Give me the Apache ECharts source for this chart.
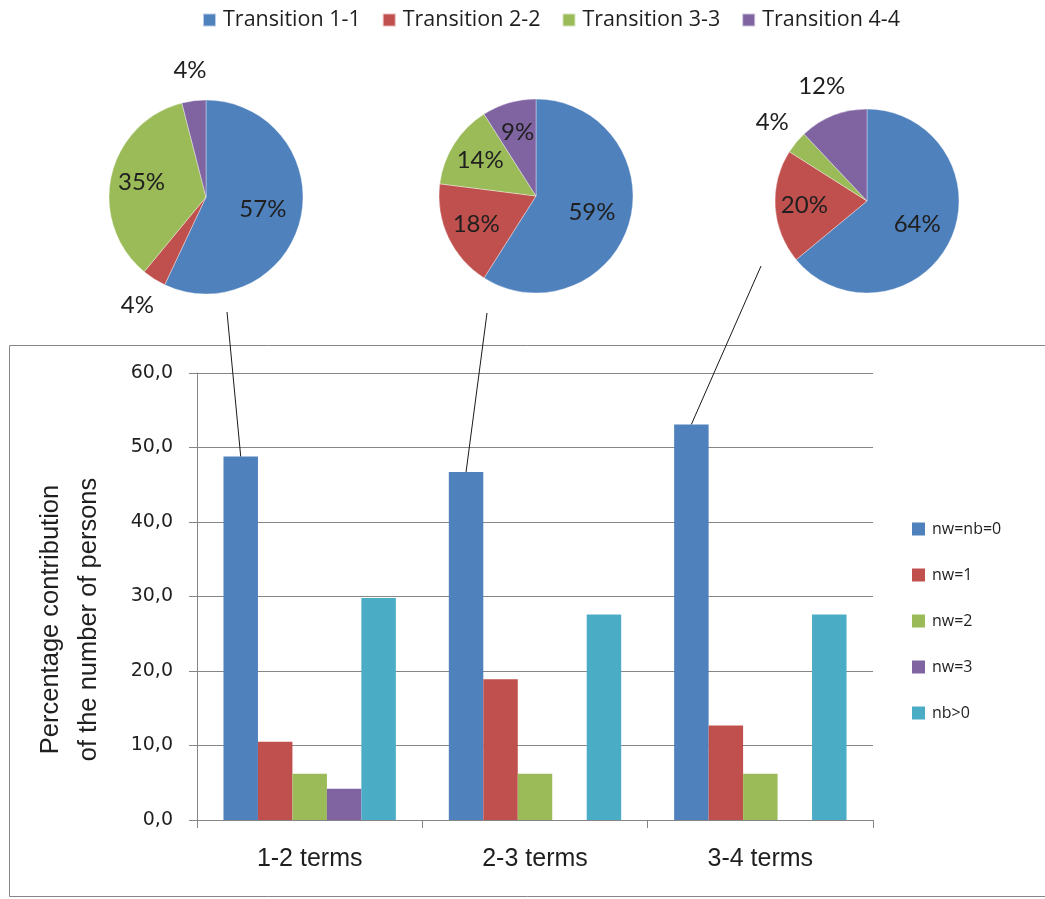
<!DOCTYPE html>
<html>
<head>
<meta charset="utf-8">
<script src="https://cdn.jsdelivr.net/npm/echarts@6/dist/echarts.min.js"></script>
<style>
  html, body { margin: 0; padding: 0; background: #fff; }
  #chart { width: 1045px; height: 899px; }
</style>
</head>
<body>
<div id="chart"></div>
<script>
// Bar chart: share of persons by household group for each term transition
const categories = ['1-2 terms', '2-3 terms', '3-4 terms'];
const groupNames = ['nw=nb=0', 'nw=1', 'nw=2', 'nw=3', 'nb>0'];
const nwnb0 = [48.8, 46.7, 53.1];
const nw1 = [10.5, 18.9, 12.7];
const nw2 = [6.2, 6.2, 6.2];
const nw3 = [4.2, 0, 0];
const nbPos = [29.8, 27.6, 27.6];
const yTicks = [0, 10, 20, 30, 40, 50, 60];

// Pie charts: breakdown of transitions for each term pair
const transitionNames = ['Transition 1-1', 'Transition 2-2', 'Transition 3-3', 'Transition 4-4'];
const pie12 = [57, 4, 35, 4];
const pie23 = [59, 18, 14, 9];
const pie34 = [64, 20, 4, 12];

const barColors = ['#4F81BD', '#C0504D', '#9BBB59', '#8064A2', '#4BACC6'];
const pieColors = ['#4F81BD', '#C0504D', '#9BBB59', '#8064A2'];
const textColor = '#1f1f1f';
const gridColor = '#868686';

const barCatGap = 0.235;

// inner labels sit a bit beyond half radius (closer in for the majority slice),
// small slices get their label just outside the pie
function pieData(values, r, outsideIdx) {
  const total = values.reduce((a, b) => a + b, 0);
  let acc = 0;
  return values.map((v, i) => {
    const mid = (acc + v / 2) / total * Math.PI * 2;
    acc += v;
    const outside = outsideIdx.indexOf(i) >= 0;
    const d = outside ? r + 28 : (v / total > 0.5 ? r * 0.57 : r * 0.65);
    const k = d - r / 2;
    return {
      name: transitionNames[i],
      value: v,
      label: { offset: [Math.sin(mid) * k, -Math.cos(mid) * k] }
    };
  });
}

function pieSeries(values, center, r, outsideIdx) {
  return {
    type: 'pie',
    center: center,
    radius: r,
    startAngle: 90,
    clockwise: true,
    silent: true,
    animation: false,
    color: pieColors,
    itemStyle: { borderColor: 'rgba(255,255,255,0.6)', borderWidth: 0.6 },
    label: {
      show: true,
      position: 'inside',
      formatter: '{c}%',
      fontFamily: 'Lato',
      fontSize: 24,
      color: textColor
    },
    labelLine: { show: false },
    data: pieData(values, r, outsideIdx)
  };
}

const barSeriesData = [nwnb0, nw1, nw2, nw3, nbPos];

const option = {
  animation: false,
  backgroundColor: '#fff',
  legend: [
    {
      data: transitionNames,
      left: 202,
      top: 9,
      padding: 0,
      icon: 'rect',
      itemWidth: 13,
      itemHeight: 13,
      itemGap: 21,
      textStyle: { fontFamily: 'Open Sans', fontSize: 21.5, color: textColor, padding: [0, 0, 0, 2] }
    },
    {
      data: groupNames,
      orient: 'vertical',
      left: 912,
      top: 519,
      padding: 0,
      icon: 'rect',
      itemWidth: 13,
      itemHeight: 13,
      itemGap: 26,
      textStyle: { fontFamily: 'Open Sans', fontSize: 16, lineHeight: 20, color: textColor, padding: [0, 0, 0, 2] }
    }
  ],
  grid: { left: 197, right: 172, top: 373, bottom: 79, outerBoundsMode: 'none', containLabel: false },
  xAxis: {
    type: 'category',
    data: categories,
    axisLine: { lineStyle: { color: gridColor } },
    axisTick: { show: true, length: 8, lineStyle: { color: gridColor } },
    axisLabel: { fontFamily: 'Liberation Sans', fontSize: 25, color: textColor, margin: 27 }
  },
  yAxis: {
    type: 'value',
    min: yTicks[0],
    max: yTicks[yTicks.length - 1],
    interval: 10,
    name: 'Percentage contribution\nof the number of persons',
    nameLocation: 'middle',
    nameRotate: 90,
    nameGap: 89,
    nameTextStyle: {
      fontFamily: 'Liberation Sans',
      fontSize: 25.5,
      lineHeight: 38,
      color: textColor,
      padding: [0, 46, 0, 0]
    },
    axisLine: { show: true, lineStyle: { color: gridColor } },
    axisTick: { show: true, length: 8, lineStyle: { color: gridColor } },
    splitLine: { lineStyle: { color: gridColor } },
    axisLabel: {
      fontFamily: 'DejaVu Sans',
      fontSize: 19,
      color: textColor,
      margin: 24,
      formatter: v => v.toFixed(1).replace('.', ',')
    }
  },
  series: [
    ...groupNames.map((name, i) => ({
      type: 'bar',
      name: name,
      data: barSeriesData[i],
      barGap: '0%',
      barCategoryGap: (barCatGap * 100) + '%',
      itemStyle: { color: barColors[i] },
      silent: true
    })),
    pieSeries(pie12, [206, 197], 97, [1, 3]),
    pieSeries(pie23, [536, 196], 97, []),
    pieSeries(pie34, [867, 201], 92, [2, 3])
  ],
  graphic: [
    {
      type: 'rect',
      silent: true,
      shape: { x: 9.5, y: 345.5, width: 1100, height: 551 },
      style: { fill: 'none', stroke: gridColor, lineWidth: 1 }
    }
  ]
};

const chart = echarts.init(document.getElementById('chart'));
chart.setOption(option);

// connector lines from each pie down to the top of its nw=nb=0 bar
const pieAnchors = [[227, 312], [487, 313], [761, 266]];
const c0 = chart.convertToPixel({ xAxisIndex: 0, yAxisIndex: 0 }, [0, 0]);
const c1 = chart.convertToPixel({ xAxisIndex: 0, yAxisIndex: 0 }, [1, 0]);
const catWidth = c1[0] - c0[0];
const barWidth = catWidth * (1 - barCatGap) / groupNames.length;
const connectors = categories.map((cat, i) => {
  const p = chart.convertToPixel({ xAxisIndex: 0, yAxisIndex: 0 }, [i, nwnb0[i]]);
  const x = p[0] - 2 * barWidth;
  return {
    type: 'line',
    silent: true,
    z: 10,
    shape: { x1: pieAnchors[i][0], y1: pieAnchors[i][1], x2: x, y2: p[1] },
    style: { stroke: '#1a1a1a', lineWidth: 1 }
  };
});
chart.setOption({ graphic: option.graphic.concat(connectors) });
</script>
</body>
</html>
